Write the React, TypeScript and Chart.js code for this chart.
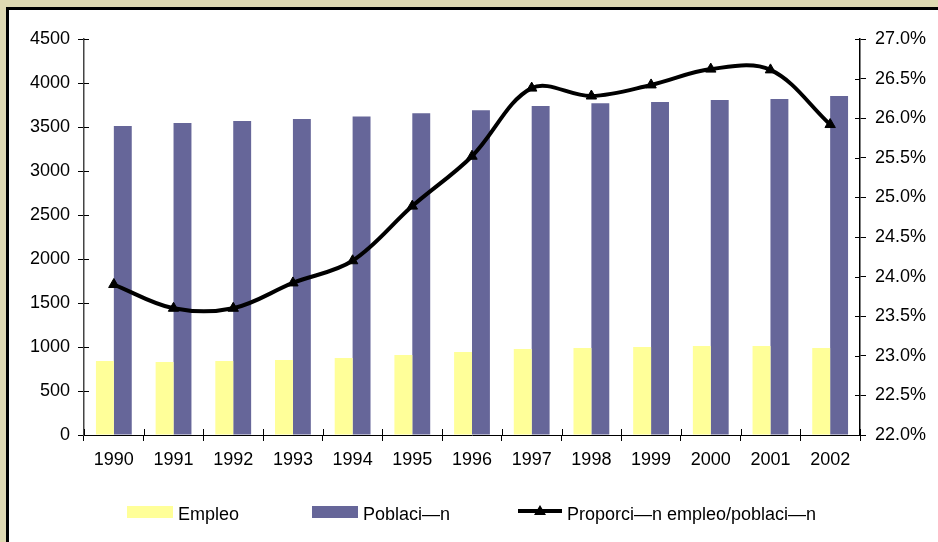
import React, { useEffect, useRef } from "react";
import { Chart, registerables } from "chart.js";

Chart.register(...registerables);

const years = ["1990", "1991", "1992", "1993", "1994", "1995", "1996", "1997", "1998", "1999", "2000", "2001", "2002"];
const empleo = [841, 830, 841, 852, 875, 909, 943, 977, 989, 1000, 1011, 1011, 989];
const poblacion = [3511, 3545, 3568, 3591, 3620, 3655, 3690, 3740, 3770, 3784, 3807, 3818, 3852];
const proporcion = [23.9, 23.6, 23.6, 23.92, 24.2, 24.89, 25.52, 26.38, 26.28, 26.42, 26.62, 26.61, 25.92];

const labelEmpleo = "Empleo";
const labelPoblacion = "Poblaci—n";
const labelProporcion = "Proporci—n empleo/poblaci—n";

const FONT = "'Liberation Sans', Arial, sans-serif";
const FS = 18;

const innerTicks = {
  id: "innerTicks",
  afterDatasetsDraw(chart: any) {
    const ctx = chart.ctx;
    const x = chart.scales.x;
    const y = chart.scales.y;
    const y1 = chart.scales.y1;
    const area = chart.chartArea;
    ctx.save();
    ctx.strokeStyle = "#000";
    ctx.lineWidth = 1;
    ctx.beginPath();
    for (let i = 0; i < y.ticks.length; i++) {
      const py = Math.round(y.getPixelForTick(i)) + 0.5;
      ctx.moveTo(area.left, py);
      ctx.lineTo(area.left + 5, py);
    }
    for (let i = 0; i < y1.ticks.length; i++) {
      const py = Math.round(y1.getPixelForTick(i)) + 0.5;
      ctx.moveTo(area.right - 5, py);
      ctx.lineTo(area.right, py);
    }
    for (let i = 0; i <= years.length; i++) {
      const px = Math.round(x.getPixelForValue(i - 0.5)) + 0.5;
      ctx.moveTo(px, area.bottom);
      ctx.lineTo(px, area.bottom - 6);
    }
    ctx.stroke();
    ctx.restore();
  },
};

const customLegend = {
  id: "customLegend",
  afterDraw(chart: any) {
    const ctx = chart.ctx;
    const ds = chart.data.datasets;
    ctx.save();
    ctx.font = `${FS}px ${FONT}`;
    ctx.fillStyle = "#000";
    ctx.textBaseline = "alphabetic";
    const baseY = 510;
    const barItems = [
      { d: ds[1], x: 118 },
      { d: ds[2], x: 303 },
    ];
    for (const it of barItems) {
      ctx.fillStyle = it.d.backgroundColor;
      ctx.fillRect(it.x, 496, 46, 12);
      ctx.fillStyle = "#000";
      ctx.fillText(it.d.label, it.x + 51, baseY);
    }
    const l = ds[0];
    const lx = 509;
    const ly = 501;
    ctx.strokeStyle = l.borderColor;
    ctx.lineWidth = 4;
    ctx.beginPath();
    ctx.moveTo(lx, ly);
    ctx.lineTo(lx + 44, ly);
    ctx.stroke();
    const cx = lx + 22;
    ctx.fillStyle = "#000";
    ctx.beginPath();
    ctx.moveTo(cx, ly - 6);
    ctx.lineTo(cx + 6, ly + 4);
    ctx.lineTo(cx - 6, ly + 4);
    ctx.closePath();
    ctx.fill();
    ctx.fillText(l.label, lx + 49, baseY);
    ctx.restore();
  },
};

export default function App() {
  const ref = useRef<HTMLCanvasElement | null>(null);

  useEffect(() => {
    if (!ref.current) return;
    const chart = new Chart(ref.current, {
      type: "bar",
      data: {
        labels: years,
        datasets: [
          {
            type: "line",
            label: labelProporcion,
            data: proporcion,
            yAxisID: "y1",
            borderColor: "#000",
            backgroundColor: "#000",
            borderWidth: 4,
            pointStyle: "triangle",
            pointRadius: 6,
            pointBackgroundColor: "#000",
            pointBorderColor: "#000",
            pointBorderWidth: 1,
            tension: 0.35,
            order: 0,
          } as any,
          {
            type: "bar",
            label: labelEmpleo,
            data: empleo,
            yAxisID: "y",
            backgroundColor: "#FFFF99",
            borderWidth: 0,
            categoryPercentage: 0.6,
            barPercentage: 1.0,
            order: 1,
          },
          {
            type: "bar",
            label: labelPoblacion,
            data: poblacion,
            yAxisID: "y",
            backgroundColor: "#666699",
            borderWidth: 0,
            categoryPercentage: 0.6,
            barPercentage: 1.0,
            order: 1,
          },
        ],
      },
      options: {
        animation: false,
        responsive: false,
        devicePixelRatio: 1,
        layout: { padding: { top: 29, left: 0, right: 0, bottom: 0 } },
        plugins: {
          legend: { display: false },
          tooltip: { enabled: false },
          title: { display: false },
        },
        scales: {
          x: {
            offset: true,
            grid: { offset: true, drawOnChartArea: false, tickLength: 6, color: "#000" },
            border: { color: "#000", width: 1 },
            ticks: { color: "#000", font: { family: FONT, size: FS }, padding: 8, maxRotation: 0 },
            afterFit: (s: any) => {
              s.height = 107;
            },
          },
          y: {
            position: "left",
            min: 0,
            max: 4500,
            ticks: {
              stepSize: 500,
              color: "#000",
              font: { family: FONT, size: FS },
              padding: 8,
              callback: (v: any) => String(v),
            },
            grid: { drawOnChartArea: false, tickLength: 6, color: "#000" },
            border: { color: "#444", width: 1.5 },
            afterFit: (s: any) => {
              s.width = 75;
            },
          },
          y1: {
            position: "right",
            min: 22,
            max: 27,
            ticks: {
              stepSize: 0.5,
              color: "#000",
              font: { family: FONT, size: FS },
              padding: 9,
              callback: (v: any) => Number(v).toFixed(1) + "%",
            },
            grid: { drawOnChartArea: false, tickLength: 6, color: "#000" },
            border: { color: "#000", width: 1.5 },
            afterFit: (s: any) => {
              s.width = 78;
            },
          },
        },
      },
      plugins: [innerTicks, customLegend],
    });
    return () => chart.destroy();
  }, []);

  return (
    <div style={{ position: "fixed", left: 0, top: 0, width: 938, height: 542, background: "#DFD9B2", overflow: "hidden" }}>
      <div
        style={{
          position: "absolute",
          left: 6,
          top: 7,
          width: 932,
          height: 535,
          background: "#fff",
          borderLeft: "3px solid #000",
          borderTop: "3px solid #000",
          boxSizing: "border-box",
        }}
      >
        <canvas ref={ref} width={929} height={532} style={{ display: "block", width: 929, height: 532 }} />
      </div>
    </div>
  );
}
